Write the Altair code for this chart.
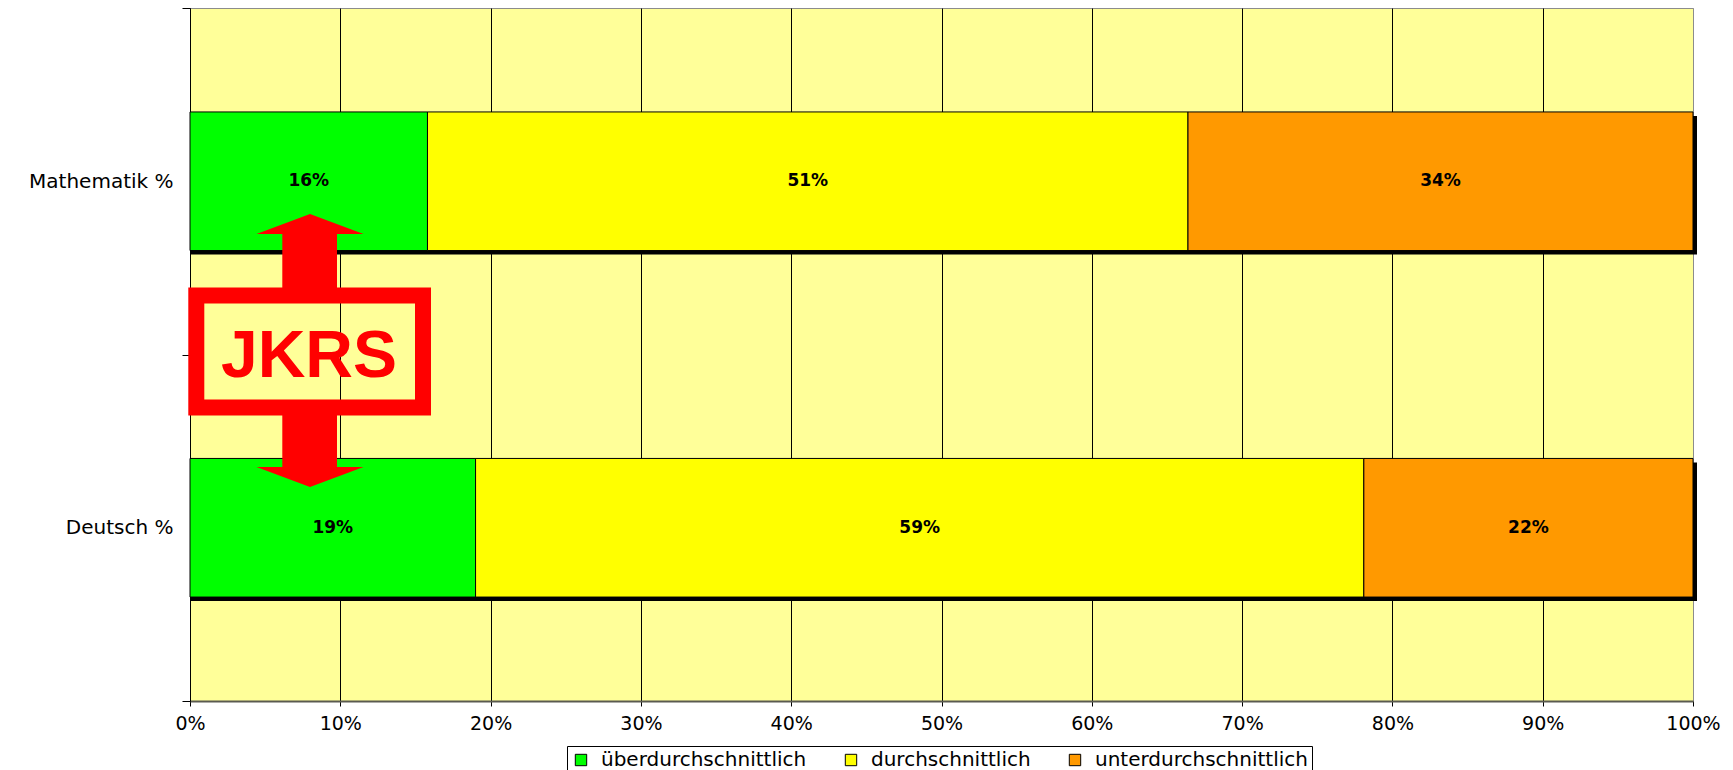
import altair as alt
import pandas as pd

categories = ["Mathematik %", "Deutsch %"]
series = ["überdurchschnittlich", "durchschnittlich", "unterdurchschnittlich"]
mathematik = [15.8, 50.6, 33.6]
deutsch = [19.0, 59.1, 21.9]
x_ticks = [0, 10, 20, 30, 40, 50, 60, 70, 80, 90, 100]
colors = ["#00FF00", "#FFFF00", "#FF9900"]
logo_text = "JKRS"

rows = []
for cat, vals in zip(categories, [mathematik, deutsch]):
    for i, (s, v) in enumerate(zip(series, vals)):
        rows.append({"category": cat, "series": s, "order": i, "value": v})
df = pd.DataFrame(rows)

W, H = 1503, 693
RED = "#FF0000"

y_enc = alt.Y(
    "category:N",
    sort=categories,
    title=None,
    scale=alt.Scale(paddingInner=0, paddingOuter=0),
    axis=alt.Axis(
        tickBand="extent",
        tickSize=8,
        tickColor="black",
        domainColor="black",
        domainWidth=1,
        labelFont="DejaVu Sans",
        labelFontSize=20,
        labelColor="black",
        labelPadding=9,
        labelLimit=0,
        grid=False,
    ),
)

x_scale = alt.Scale(domain=[0, 100], nice=False, zero=True)
x_axis = alt.Axis(
    values=x_ticks,
    labelExpr="datum.value + '%'",
    grid=True,
    gridColor={"condition": {"test": "datum.value === 100", "value": "#8c8c8c"}, "value": "black"},
    gridWidth=1,
    tickSize=5,
    tickColor="black",
    domainColor="#5a5a50",
    domainWidth=2,
    labelFont="DejaVu Sans",
    labelFontSize=19,
    labelColor="black",
    labelPadding=8,
    labelFlush=False,
    labelOverlap=False,
    title=None,
)

base = alt.Chart(df)

shadow = base.mark_bar(
    height={"band": 0.4},
    color="black",
    xOffset=4, x2Offset=4, yOffset=4, y2Offset=4,
).encode(
    x=alt.X("sum(value):Q", scale=x_scale, axis=x_axis),
    y=y_enc,
)

bars = base.mark_bar(
    height={"band": 0.4},
    stroke="black",
    strokeWidth=1,
).encode(
    x=alt.X("value:Q", stack="zero", scale=x_scale, axis=x_axis),
    y=y_enc,
    color=alt.Color(
        "series:N",
        scale=alt.Scale(domain=series, range=colors),
        legend=alt.Legend(
            title=None,
            orient="none",
            direction="horizontal",
            legendX=377,
            legendY=738,
            strokeColor="black",
            fillColor="white",
            padding=4,
            columnPadding=34,
            symbolType="square",
            symbolSize=130,
            symbolStrokeColor="black",
            symbolStrokeWidth=1,
            symbolOpacity=1,
            labelFont="DejaVu Sans",
            labelFontSize=20,
            labelColor="black",
            labelOffset=10,
            labelLimit=0,
        ),
    ),
    order=alt.Order("order:Q"),
)

labels = base.transform_window(
    cum="sum(value)", sort=[alt.SortField("order")], groupby=["category"], frame=[None, 0]
).transform_calculate(
    mid="datum.cum - datum.value / 2",
    label="format(datum.value, '.0f') + '%'",
).mark_text(
    font="DejaVu Sans", fontWeight="bold", fontSize=17, color="black", align="center", baseline="middle"
).encode(
    x=alt.X("mid:Q", scale=x_scale, axis=x_axis),
    y=y_enc,
    text="label:N",
)

one = alt.Data(values=[{"k": 1}])

logo_frame = alt.Chart(one).mark_rect(
    fillOpacity=0, stroke=RED, strokeWidth=16
).encode(x=alt.value(6.3), x2=alt.value(233), y=alt.value(287.5), y2=alt.value(399.5))

shaft_top = alt.Chart(one).mark_rect(color=RED).encode(
    x=alt.value(92.3), x2=alt.value(147), y=alt.value(225), y2=alt.value(280)
)
shaft_bottom = alt.Chart(one).mark_rect(color=RED).encode(
    x=alt.value(92.3), x2=alt.value(147), y=alt.value(407), y2=alt.value(459)
)
head_top = alt.Chart(one).mark_point(
    shape="M-1,0L1,0L0,-0.374Z", size=11449, filled=True, color=RED, opacity=1, strokeWidth=0
).encode(x=alt.value(120), y=alt.value(226))
head_bottom = alt.Chart(one).mark_point(
    shape="M-1,0L1,0L0,0.374Z", size=11449, filled=True, color=RED, opacity=1, strokeWidth=0
).encode(x=alt.value(120), y=alt.value(459))
logo_label = alt.Chart(one).mark_text(
    text=logo_text, font="Liberation Sans", fontWeight="bold", fontSize=66, color=RED,
    align="center", baseline="alphabetic",
).encode(x=alt.value(119), y=alt.value(369))

chart = alt.layer(
    shadow, bars, labels, logo_frame, shaft_top, shaft_bottom, head_top, head_bottom, logo_label
).properties(
    width=W,
    height=H,
    autosize=alt.AutoSizeParams(type="none"),
    padding={"left": 182, "top": 0, "right": 30, "bottom": 85},
    background="white",
).configure_view(
    fill="#FFFF99",
    stroke="#8c8c8c",
    strokeWidth=1,
)

chart.save("out.html", embed_options={"renderer": "svg", "actions": False})
